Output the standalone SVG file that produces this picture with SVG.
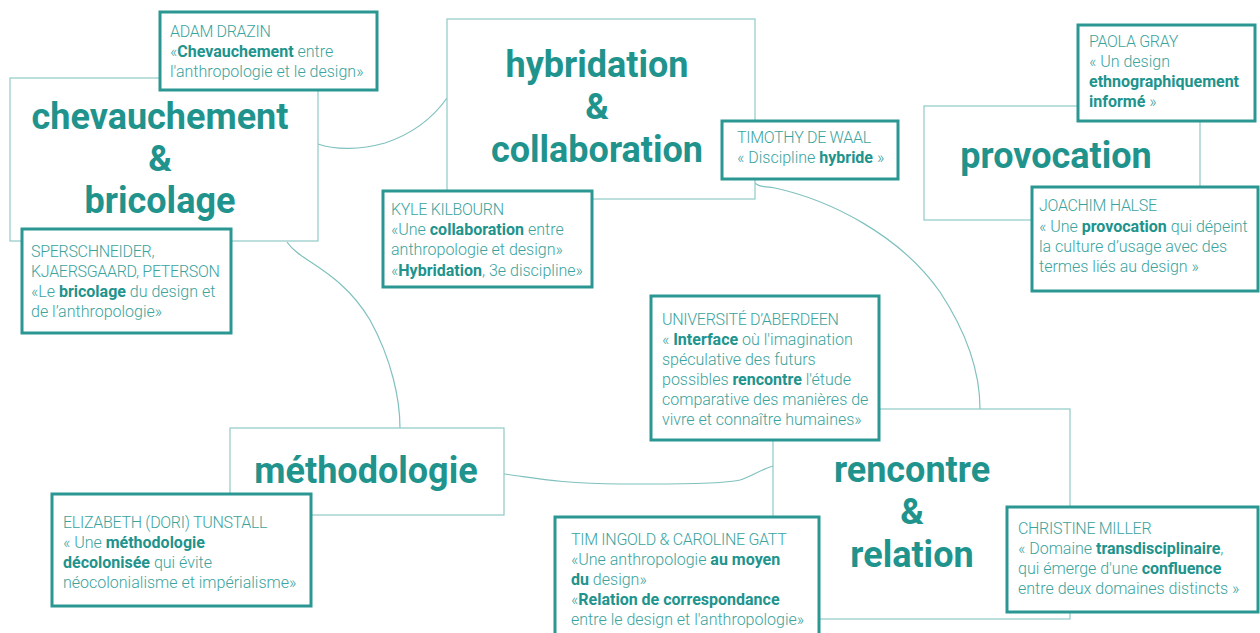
<svg xmlns="http://www.w3.org/2000/svg" width="1260" height="633" viewBox="0 0 1260 633">
<style>
.main{fill:#ffffff;stroke:#8fcac7;stroke-width:1.2}
.cite{fill:#ffffff;stroke:#2a9792;stroke-width:3}
.conn{fill:none;stroke:#7fc1be;stroke-width:1.2}
.title{font-family:Roboto,"Liberation Sans",sans-serif;font-weight:700;font-size:36px;fill:#21938d;text-anchor:middle}
.t{font-family:Roboto,"Liberation Sans",sans-serif;font-weight:300;font-size:16px;fill:#3aa39d}
.nm{letter-spacing:-0.3px}
.k{font-weight:700;fill:#21938d}
</style>
<rect width="1260" height="633" fill="#ffffff"/>
<g id="connectors">
<path class="conn" d="M318,144 C335,150 360,150 385,143 C415,133 435,115 447,98"/>
<path class="conn" d="M287,242 C300,262 340,270 370,320 C392,360 400,400 400,428"/>
<path class="conn" d="M504,474 C530,477 560,484 620,484 C680,484 720,484 740,480 C752,476 760,470 773,466"/>
<path class="conn" d="M755,183 C760,188 765,186 775,188 C830,200 900,235 940,292 C965,330 980,370 980,409"/>
</g>
<g id="node-chevauchement">
<rect class="main" x="10" y="78" width="308" height="163"/>
<text class="title" x="160" y="129">chevauchement</text>
<text class="title" x="160" y="171">&amp;</text>
<text class="title" x="160" y="213">bricolage</text>
</g>
<g id="node-hybridation">
<rect class="main" x="447" y="19" width="308" height="180"/>
<text class="title" x="597" y="77">hybridation</text>
<text class="title" x="597" y="119">&amp;</text>
<text class="title" x="597" y="162">collaboration</text>
</g>
<g id="node-provocation">
<rect class="main" x="924" y="106" width="276" height="114"/>
<text class="title" x="1056" y="168">provocation</text>
</g>
<g id="node-methodologie">
<rect class="main" x="230" y="428" width="274" height="87"/>
<text class="title" x="366" y="483">méthodologie</text>
</g>
<g id="node-rencontre">
<rect class="main" x="773" y="409" width="297" height="210"/>
<text class="title" x="912" y="482">rencontre</text>
<text class="title" x="912" y="524">&amp;</text>
<text class="title" x="912" y="567">relation</text>
</g>
<g id="cite-drazin">
<rect class="cite" x="160" y="12" width="217" height="78"/>
<text class="t nm" x="170" y="37">ADAM DRAZIN</text>
<text class="t" x="170" y="57">«<tspan class="k">Chevauchement</tspan> entre</text>
<text class="t" x="170" y="77">l'anthropologie et le design»</text>
</g>
<g id="cite-sperschneider">
<rect class="cite" x="22" y="229" width="209" height="104"/>
<text class="t nm" x="31" y="257">SPERSCHNEIDER,</text>
<text class="t nm" x="31" y="277">KJAERSGAARD, PETERSON</text>
<text class="t" x="31" y="297">«Le <tspan class="k">bricolage</tspan> du design et</text>
<text class="t" x="31" y="317">de l’anthropologie»</text>
</g>
<g id="cite-kilbourn">
<rect class="cite" x="383" y="191" width="209" height="96"/>
<text class="t nm" x="391" y="215">KYLE KILBOURN</text>
<text class="t" x="391" y="235">«Une <tspan class="k">collaboration</tspan> entre</text>
<text class="t" x="391" y="255">anthropologie et design»</text>
<text class="t" x="391" y="276">«<tspan class="k">Hybridation</tspan>, 3e discipline»</text>
</g>
<g id="cite-dewaal">
<rect class="cite" x="722" y="121" width="176" height="58"/>
<text class="t nm" x="737" y="143">TIMOTHY DE WAAL</text>
<text class="t" x="737" y="163">« Discipline <tspan class="k">hybride</tspan> »</text>
</g>
<g id="cite-gray">
<rect class="cite" x="1078" y="25" width="177" height="96"/>
<text class="t nm" x="1089" y="47">PAOLA GRAY</text>
<text class="t" x="1089" y="67">« Un design</text>
<text class="t" x="1089" y="87"><tspan class="k">ethnographiquement</tspan></text>
<text class="t" x="1089" y="107"><tspan class="k">informé</tspan> »</text>
</g>
<g id="cite-halse">
<rect class="cite" x="1032" y="187" width="226" height="104"/>
<text class="t nm" x="1039" y="211">JOACHIM HALSE</text>
<text class="t" x="1039" y="232">« Une <tspan class="k">provocation</tspan> qui dépeint</text>
<text class="t" x="1039" y="252">la culture d’usage avec des</text>
<text class="t" x="1039" y="272">termes liés au design »</text>
</g>
<g id="cite-aberdeen">
<rect class="cite" x="651" y="296" width="228" height="144"/>
<text class="t nm" x="662" y="325">UNIVERSITÉ D’ABERDEEN</text>
<text class="t" x="662" y="345">« <tspan class="k">Interface</tspan> où l'imagination</text>
<text class="t" x="662" y="365">spéculative des futurs</text>
<text class="t" x="662" y="385">possibles <tspan class="k">rencontre</tspan> l'étude</text>
<text class="t" x="662" y="405">comparative des manières de</text>
<text class="t" x="662" y="425">vivre et connaître humaines»</text>
</g>
<g id="cite-tunstall">
<rect class="cite" x="52" y="494" width="259" height="112"/>
<text class="t nm" x="63" y="528">ELIZABETH (DORI) TUNSTALL</text>
<text class="t" x="63" y="548">« Une <tspan class="k">méthodologie</tspan></text>
<text class="t" x="63" y="568"><tspan class="k">décolonisée</tspan> qui évite</text>
<text class="t" x="63" y="588">néocolonialisme et impérialisme»</text>
</g>
<g id="cite-ingold">
<rect class="cite" x="555" y="517" width="264" height="125"/>
<text class="t nm" x="571" y="545">TIM INGOLD &amp; CAROLINE GATT</text>
<text class="t" x="571" y="565">«Une anthropologie <tspan class="k">au moyen</tspan></text>
<text class="t" x="571" y="585"><tspan class="k">du</tspan> design»</text>
<text class="t" x="571" y="605">«<tspan class="k">Relation de correspondance</tspan></text>
<text class="t" x="571" y="625">entre le design et l'anthropologie»</text>
</g>
<g id="cite-miller">
<rect class="cite" x="1007" y="507" width="251" height="105"/>
<text class="t nm" x="1018" y="534">CHRISTINE MILLER</text>
<text class="t" x="1018" y="554">« Domaine <tspan class="k">transdisciplinaire</tspan>,</text>
<text class="t" x="1018" y="574">qui émerge d'une <tspan class="k">confluence</tspan></text>
<text class="t" x="1018" y="594">entre deux domaines distincts »</text>
</g>
</svg>
